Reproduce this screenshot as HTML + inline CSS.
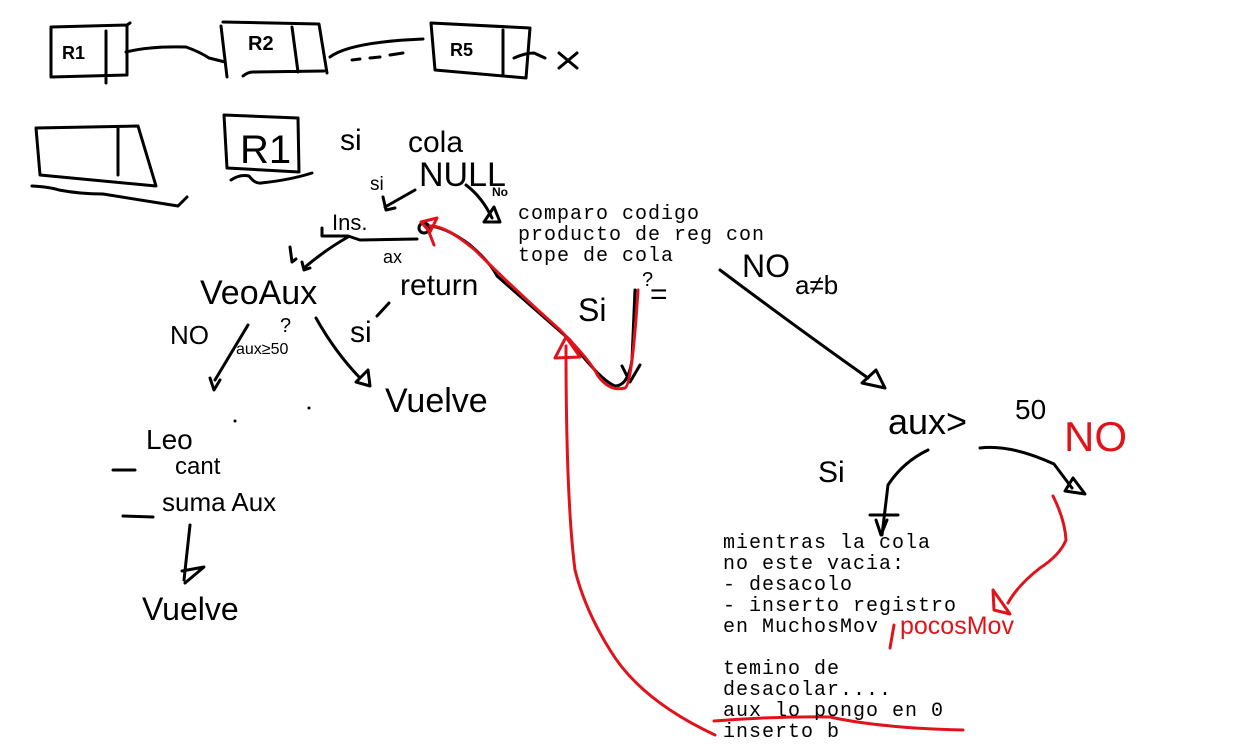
<!DOCTYPE html>
<html><head><meta charset="utf-8"><style>
html,body{margin:0;padding:0;background:#fff;width:1260px;height:750px;overflow:hidden}
svg{position:absolute;left:0;top:0}
.t{position:absolute;font-family:"Liberation Mono",monospace;font-size:20px;letter-spacing:1px;line-height:21px;color:#000;white-space:pre}
.h{position:absolute;font-family:"Liberation Sans",sans-serif;line-height:1;white-space:pre}
</style></head><body>
<svg width="1260" height="750" viewBox="0 0 1260 750" fill="none" stroke-linecap="round" stroke-linejoin="round">
<g stroke="#000" stroke-width="3">
<!-- top chain -->
<path d="M51,27 L127,25 L127,75 L51,77 Z M106,31 L106,83 M127,25 L130,23"/>
<path d="M126,52 Q150,46 186,47 Q200,52 209,58 L225,62"/>
<path d="M221,26 L227,77 M223,22 L319,24 L327,73 M292,27 L298,72 M243,76 Q248,72 253,72 L324,71"/>
<path d="M330,57 Q350,42 423,39 M352,60 L360,59 M370,58 L380,57 M390,55 L403,53"/>
<path d="M431,23 L530,28 L526,78 L435,70 Z M503,30 L503,75 M514,58 Q525,53 534,53 L545,58"/>
<path d="M559,53 L577,68 M577,53 L559,68"/>
<!-- second row -->
<path d="M36,128 L138,126 L156,186 L40,175 Z M118,127 L118,175"/>
<path d="M32,186 Q50,187 59,190 Q80,194 103,194 Q140,200 178,206 L187,197"/>
<path d="M224,115 L298,118 L299,172 L227,168 Z"/>
<path d="M231,180 Q240,174 249,176 Q255,184 261,183 Q290,180 312,173"/>
<!-- NULL arrows -->
<path d="M415,190 L385,207 M383,197 L386,210 L395,208"/>
<path d="M466,185 Q482,197 492,218 M484,222 L500,222 L494,207 Z"/>
<!-- Ins underline -->
<path d="M322,228 L322,236 L348,236 L360,240 L417,239"/>
<circle cx="424" cy="228" r="5" stroke-width="3"/>
<path d="M348,237 Q325,250 304,268 M302,262 L304,270 L310,268"/>
<path d="M290,247 L292,262 L296,259"/>
<path d="M248,325 Q230,355 215,380 M210,378 L214,390 L220,380"/>
<path d="M316,318 Q335,352 360,378 M356,382 L368,370 L370,386 Z"/>
<path d="M389,303 L377,316"/>
<!-- black curve from Ins to Si -->
<path d="M427,226 Q445,226 470,245 Q490,262 497,276 Q530,305 570,340 Q600,380 615,386 Q628,386 632,360 L635,290"/>
<path d="M622,366 L630,382 L640,365"/>
<path d="M720,270 Q800,330 868,378 M862,383 L885,388 L876,370 Z"/>
<path d="M928,450 Q903,462 888,485 L882,535 M870,515 L898,515 M876,520 L881,535 L887,520"/>
<path d="M980,448 Q1010,444 1054,464 L1072,488 M1065,491 L1085,494 L1073,478 Z"/>
<path d="M190,525 L184,580 M182,571 L204,567 L185,583"/>
<path d="M113,470 L135,470 M123,516 L153,517"/>
</g>
<g fill="#000"><circle cx="235" cy="421" r="1.5"/><circle cx="309" cy="408" r="1.5"/></g>
<g stroke="#e0131b" stroke-width="3">
<path d="M430,226 Q445,225 475,250 Q515,290 560,330 Q590,360 598,376 Q610,392 625,388 Q632,385 638,290"/>
<path d="M421,222 L437,218 L430,232 Z M429,232 L434,245"/>
<path d="M566,346 Q566,500 575,570 Q585,610 610,650 Q640,700 715,735"/>
<path d="M555,358 L566,337 L580,357 Z"/>
<path d="M1053,496 Q1065,520 1066,540 Q1060,555 1040,568 Q1018,585 1008,603 M993,590 L994,610 L1010,614 Z"/>
<path d="M714,721 Q780,716 830,717 Q880,728 963,730"/>
<path d="M894,625 L890,648"/>
</g>
</svg>
<div class="h" style="left:62px;top:44px;font-size:18px;font-weight:bold">R1</div>
<div class="h" style="left:248px;top:34px;font-size:20px;font-weight:bold">R2</div>
<div class="h" style="left:450px;top:41px;font-size:18px;font-weight:bold">R5</div>
<div class="h" style="left:240px;top:130px;font-size:40px">R1</div>
<div class="h" style="left:340px;top:126px;font-size:30px">si</div>
<div class="h" style="left:408px;top:128px;font-size:30px">cola</div>
<div class="h" style="left:419px;top:158px;font-size:34px">NULL</div>
<div class="h" style="left:370px;top:175px;font-size:19px">si</div>
<div class="h" style="left:492px;top:186px;font-size:12px;font-weight:bold">No</div>
<div class="h" style="left:332px;top:212px;font-size:22px">Ins.</div>
<div class="h" style="left:383px;top:248px;font-size:18px">ax</div>
<div class="h" style="left:200px;top:276px;font-size:34px">VeoAux</div>
<div class="h" style="left:400px;top:271px;font-size:30px">return</div>
<div class="h" style="left:170px;top:322px;font-size:26px">NO</div>
<div class="h" style="left:280px;top:316px;font-size:20px">?</div>
<div class="h" style="left:236px;top:342px;font-size:16px">aux≥50</div>
<div class="h" style="left:350px;top:318px;font-size:30px">si</div>
<div class="h" style="left:385px;top:384px;font-size:34px">Vuelve</div>
<div class="h" style="left:146px;top:426px;font-size:28px">Leo</div>
<div class="h" style="left:175px;top:455px;font-size:24px">cant</div>
<div class="h" style="left:162px;top:489px;font-size:26px">suma Aux</div>
<div class="h" style="left:142px;top:593px;font-size:32px">Vuelve</div>
<div class="h" style="left:578px;top:294px;font-size:32px">Si</div>
<div class="h" style="left:642px;top:270px;font-size:20px">?</div>
<div class="h" style="left:650px;top:280px;font-size:30px">=</div>
<div class="h" style="left:742px;top:250px;font-size:32px">NO</div>
<div class="h" style="left:795px;top:272px;font-size:26px">a≠b</div>
<div class="h" style="left:888px;top:404px;font-size:36px">aux&gt;</div>
<div class="h" style="left:1015px;top:396px;font-size:28px">50</div>
<div class="h" style="left:1064px;top:416px;font-size:42px;color:#e0131b">NO</div>
<div class="h" style="left:818px;top:458px;font-size:30px">Si</div>
<div class="h" style="left:900px;top:614px;font-size:25px;color:#e0131b">pocosMov</div>
<div class="t" style="left:518px;top:204px">comparo codigo
producto de reg con
tope de cola</div>
<div class="t" style="left:723px;top:533px">mientras la cola
no este vacia:
- desacolo
- inserto registro
en MuchosMov

temino de
desacolar....
aux lo pongo en 0
inserto b</div>
</body></html>
